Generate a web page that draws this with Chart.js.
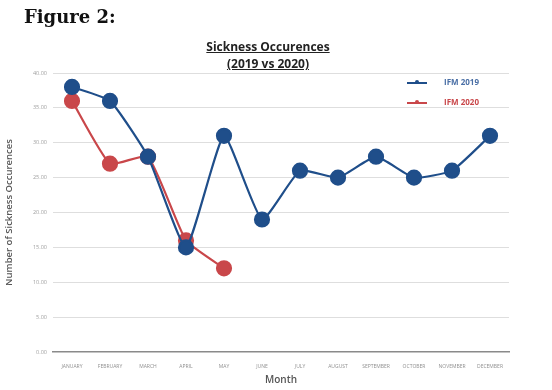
<!DOCTYPE html>
<html>
<head>
<meta charset="utf-8">
<script src="https://cdn.jsdelivr.net/npm/chart.js@4"></script>
<style>
  body { margin:0; background:#fff; width:552px; height:390px; overflow:hidden; position:relative; font-family:"Open Sans", sans-serif; }
  #wrap { position:absolute; left:0; top:0; width:552px; height:390px; }
  #fig { position:absolute; left:24px; top:6px; font-family:"DejaVu Serif", serif; font-weight:bold; font-size:18px; color:#111; }
  #title { position:absolute; left:0; width:536px; top:38px; text-align:center; font-weight:bold; font-size:12px; line-height:17px; color:#222; }
  #title span { text-decoration:underline; }
  .leg { position:absolute; left:407px; font-size:8px; font-weight:bold; }
  .leg i { display:inline-block; width:20px; height:2px; vertical-align:middle; margin-right:17px; position:relative; }
  .leg i b { position:absolute; left:8px; top:-1.5px; width:4px; height:4px; border-radius:2px; }
</style>
</head>
<body>
<div id="wrap"><canvas id="c" width="552" height="390"></canvas></div>
<div id="fig">Figure 2:</div>
<div id="title"><span>Sickness Occurences</span><br><span>(2019 vs 2020)</span></div>
<div class="leg" style="top:76px;color:#4a6fa5"><i style="background:#1f4e8a"><b style="background:#1f4e8a"></b></i>IFM 2019</div>
<div class="leg" style="top:96px;color:#c9474a"><i style="background:#c9474a"><b style="background:#c9474a"></b></i>IFM 2020</div>
<script>
// données
const months = ['JANUARY','FEBRUARY','MARCH','APRIL','MAY','JUNE','JULY','AUGUST','SEPTEMBER','OCTOBER','NOVEMBER','DECEMBER'];
const ifm2019 = [38,36,28,15,31,19,26,25,28,25,26,31];
const ifm2020 = [36,27,28,16,12];

const blue = '#1f4e8a', red = '#c9474a';
Chart.defaults.font.family = '"Open Sans", sans-serif';

new Chart(document.getElementById('c'), {
  type: 'line',
  data: {
    labels: months,
    datasets: [
      { label:'IFM 2019', data:ifm2019, borderColor:blue, backgroundColor:blue, borderWidth:2.2, pointRadius:7, pointHoverRadius:7, tension:0.15 },
      { label:'IFM 2020', data:ifm2020, borderColor:red, backgroundColor:red, borderWidth:2.2, pointRadius:7, pointHoverRadius:7, tension:0.15 }
    ]
  },
  options: {
    responsive:false, animation:false,
    layout:{ padding:{ left:0, top:73, right:43, bottom:0 } },
    plugins:{ legend:{ display:false }, tooltip:{ enabled:false } },
    scales:{
      x:{
        offset:true,
        grid:{ display:false },
        border:{ color:'#8a8a8a', width:1.5 },
        ticks:{ font:{ size:5 }, color:'#909090', maxRotation:0, autoSkip:false, padding:4 },
        title:{ display:true, text:'Month', font:{ size:10, weight:'600' }, color:'#555', padding:{ top:1 } },
        afterFit(s){ s.height = 38; }
      },
      y:{
        min:0, max:40,
        grid:{ color:c => c.tick.value === 0 ? 'rgba(0,0,0,0)' : '#dedede', drawTicks:false },
        border:{ display:false },
        ticks:{ stepSize:5, font:{ size:5.5 }, color:'#a0a0a0', padding:6, callback:v => v.toFixed(2) },
        title:{ display:true, text:'Number of Sickness Occurences', font:{ size:9.5, weight:'600' }, color:'#555', padding:{ bottom:2 } },
        afterFit(s){ s.width = 53; }
      }
    }
  }
});
</script>
</body>
</html>
